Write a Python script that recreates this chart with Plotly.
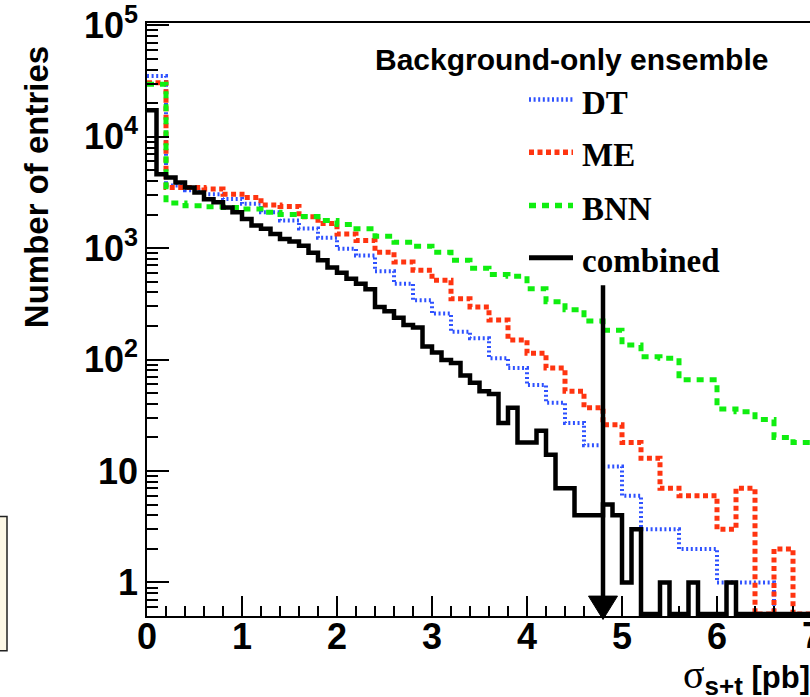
import math
import plotly.graph_objects as go

# ---------------------------------------------------------------------------
# Pseudo-experiment distributions of the measured cross section (pb)
# ---------------------------------------------------------------------------
# combined result: 0.1 pb bins starting at 0
combined_counts = [
    17300, 4600, 4300, 3880, 3500, 3160, 2750, 2580, 2320, 2100,
    1830, 1600, 1490, 1340, 1210, 1150, 1050, 910, 780, 670,
    600, 530, 480, 427, 297, 272, 237, 204, 194, 131,
    116, 99, 93, 72, 62, 52, 49, 27, 37, 18,
    18, 23, 14, 7, 7, 4, 4, 4, 5, 4,
    1, 3, 0, 0, 1, 0, 0, 1, 0, 0,
    0, 1, 0, 0, 0, 0, 0, 0, 0, 0,
]
combined_bin = 0.1

# individual analyses: 0.2 pb bins starting at 0
dt_counts = [
    35000, 3650, 3300, 3050, 2760, 2500, 2100, 1770, 1500, 1240,
    990, 860, 620, 480, 341, 259, 178, 155, 103, 84,
    59, 41, 27, 17, 11, 6, 3, 3, 2, 2,
    1, 1, 1, 0, 0,
]
me_counts = [
    30500, 3500, 3500, 3390, 3050, 2850, 2440, 2370, 1910, 1660,
    1340, 1170, 921, 750, 632, 515, 352, 297, 226, 150,
    114, 84, 52, 37, 26, 18, 13, 7, 6, 6,
    3, 7, 0, 2, 0,
]
bnn_counts = [
    29500, 2540, 2400, 2350, 2320, 2250, 2100, 2000, 1920, 1770,
    1630, 1490, 1280, 1130, 1040, 921, 777, 660, 580, 560,
    433, 330, 280, 222, 183, 135, 106, 103, 66, 66,
    36, 34, 29, 20, 18,
]
method_bin = 0.2

# observed cross section and the height where its arrow starts
observed_xsec = 4.8
arrow_top_entries = 465

x_tick_vals = [0, 1, 2, 3, 4, 5, 6]
x_tick_text = ["0", "1", "2", "3", "4", "5", "6"]
y_tick_vals = [1, 10, 100, 1000, 10000, 100000]
y_tick_text = ["1", "10", "10<sup>2</sup>", "10<sup>3</sup>", "10<sup>4</sup>", "10<sup>5</sup>"]

# ---------------------------------------------------------------------------
# Frame geometry
# ---------------------------------------------------------------------------
W, H = 810, 697
ML, MR, MT, MB = 147, 0, 20, 81
PW, PH = W - ML - MR, H - MT - MB
PX_PER_PB = 95.0
PX_PER_DECADE = 112.0
Y_MIN = 0.5
x_range = [0, PW / PX_PER_PB]
y_log_range = [math.log10(Y_MIN), math.log10(Y_MIN) + PH / PX_PER_DECADE]
FLOOR = 0.52  # empty bins are drawn along the bottom of the frame

SANS = "Liberation Sans, Arial, Helvetica, sans-serif"
SERIF = "Liberation Serif, Times New Roman, serif"


def paper_x(px):
    return (px - ML) / PW


def paper_y(py):
    return (H - MB - py) / PH


def log_to_paper(v):
    return (math.log10(v) - y_log_range[0]) / (y_log_range[1] - y_log_range[0])


def step_xy(counts, width):
    edges = [round(i * width, 6) for i in range(len(counts) + 1)]
    vals = [c if c > 0 else FLOOR for c in counts]
    return edges, vals + [vals[-1]]


series = [
    ("DT", dt_counts, method_bin, "#2f52ff", 4, "2px,2.6px"),
    ("ME", me_counts, method_bin, "#ff3410", 5, "5px,3.5px"),
    ("BNN", bnn_counts, method_bin, "#10ee10", 5, "7px,6px"),
    ("combined", combined_counts, combined_bin, "#000000", 4.5, "solid"),
]

fig = go.Figure()
for name, counts, width, color, lw, dash in series:
    xs, ys = step_xy(counts, width)
    fig.add_trace(go.Scatter(
        x=xs, y=ys, mode="lines", name=name,
        line=dict(shape="hv", color=color, width=lw, dash=dash),
        hoverinfo="skip", showlegend=False,
    ))

# minor ticks of the logarithmic axis
y_minor = []
for dec in range(-1, 5):
    for m in range(2, 10):
        v = m * 10 ** dec
        if v >= Y_MIN:
            y_minor.append(v)

tick_font = dict(family=SANS, size=36, color="black", weight="bold")

fig.update_layout(
    width=W, height=H,
    margin=dict(l=ML, r=MR, t=MT, b=MB, pad=0),
    paper_bgcolor="white", plot_bgcolor="white",
    showlegend=False,
    xaxis=dict(
        range=x_range, showline=True, linecolor="black", linewidth=2, mirror=True,
        ticks="inside", ticklen=20, tickwidth=1.5, tickcolor="black",
        tickmode="array", tickvals=x_tick_vals, ticktext=x_tick_text,
        tickfont=tick_font, showgrid=False, zeroline=False,
        ticklabelstandoff=-12, ticklabeloverflow="allow",
        minor=dict(ticks="inside", ticklen=10, tickwidth=1.5, tickcolor="black",
                   tick0=0, dtick=0.2, showgrid=False),
    ),
    yaxis=dict(
        type="log", range=y_log_range, showline=True, linecolor="black", linewidth=1.5,
        ticks="inside", ticklen=22, tickwidth=1.5, tickcolor="black",
        tickmode="array", tickvals=y_tick_vals, ticktext=y_tick_text,
        tickfont=tick_font, showgrid=False, zeroline=False,
        ticklabeloverflow="allow",
        minor=dict(ticks="inside", ticklen=11, tickwidth=1.5, tickcolor="black",
                   tickvals=y_minor, showgrid=False),
    ),
)

shapes = []
annotations = []

# arrow at the observed cross section
shapes.append(dict(
    type="line", xref="x", yref="paper",
    x0=observed_xsec, x1=observed_xsec,
    y0=log_to_paper(arrow_top_entries), y1=paper_y(596),
    line=dict(color="black", width=4.5), layer="above",
))
half = 14.5 / PX_PER_PB
shapes.append(dict(
    type="path", xref="x", yref="paper",
    path=(f"M {observed_xsec - half},{paper_y(596)} L {observed_xsec + half},{paper_y(596)} "
          f"L {observed_xsec},{paper_y(619.5)} Z"),
    fillcolor="black", line=dict(color="black", width=1), layer="above",
))

# legend
annotations.append(dict(
    xref="paper", yref="paper", x=paper_x(373), y=paper_y(57),
    xanchor="left", yanchor="middle", showarrow=False,
    text="Background-only ensemble",
    font=dict(family=SANS, size=30, color="black", weight="bold"),
))
legend_rows = [97, 150, 203.5, 256]
for (name, counts, width, color, lw, dash), row in zip(series, legend_rows):
    shapes.append(dict(
        type="line", xref="paper", yref="paper",
        x0=paper_x(529), x1=paper_x(573), y0=paper_y(row), y1=paper_y(row),
        line=dict(color=color, width=lw + 0.5, dash=dash),
    ))
    annotations.append(dict(
        xref="paper", yref="paper", x=paper_x(580), y=paper_y(row + 3),
        xanchor="left", yanchor="middle", showarrow=False, text=name,
        font=dict(family=SERIF, size=33, color="black", weight="bold"),
    ))

# axis titles
annotations.append(dict(
    xref="paper", yref="paper", x=paper_x(36), y=paper_y(185),
    xanchor="center", yanchor="middle", showarrow=False, textangle=-90,
    text="Number of entries",
    font=dict(family=SANS, size=33, color="black", weight="bold"),
))
annotations.append(dict(
    xref="paper", yref="paper", x=paper_x(681), y=paper_y(677),
    xanchor="left", yanchor="middle", showarrow=False,
    text=(f"<span style='font-family:{SERIF};font-weight:normal;font-size:40px'>σ</span>"
          "<sub><span style='font-size:26px'>s+t</span></sub> [pb]"),
    font=dict(family=SANS, size=31, color="black", weight="bold"),
))
# last major label, sitting on the right edge
annotations.append(dict(
    xref="paper", yref="paper", x=paper_x(ML + 7 * PX_PER_PB), y=paper_y(636),
    xanchor="center", yanchor="middle", showarrow=False, text="7",
    font=tick_font,
))

# edge of the neighbouring pad on the left
shapes.append(dict(
    type="rect", xref="paper", yref="paper",
    x0=paper_x(-20), x1=paper_x(7), y0=paper_y(651), y1=paper_y(516),
    fillcolor="#fdf8e6", line=dict(color="#222222", width=1.5),
))

fig.update_layout(shapes=shapes, annotations=annotations)
fig.write_html("out.html")
